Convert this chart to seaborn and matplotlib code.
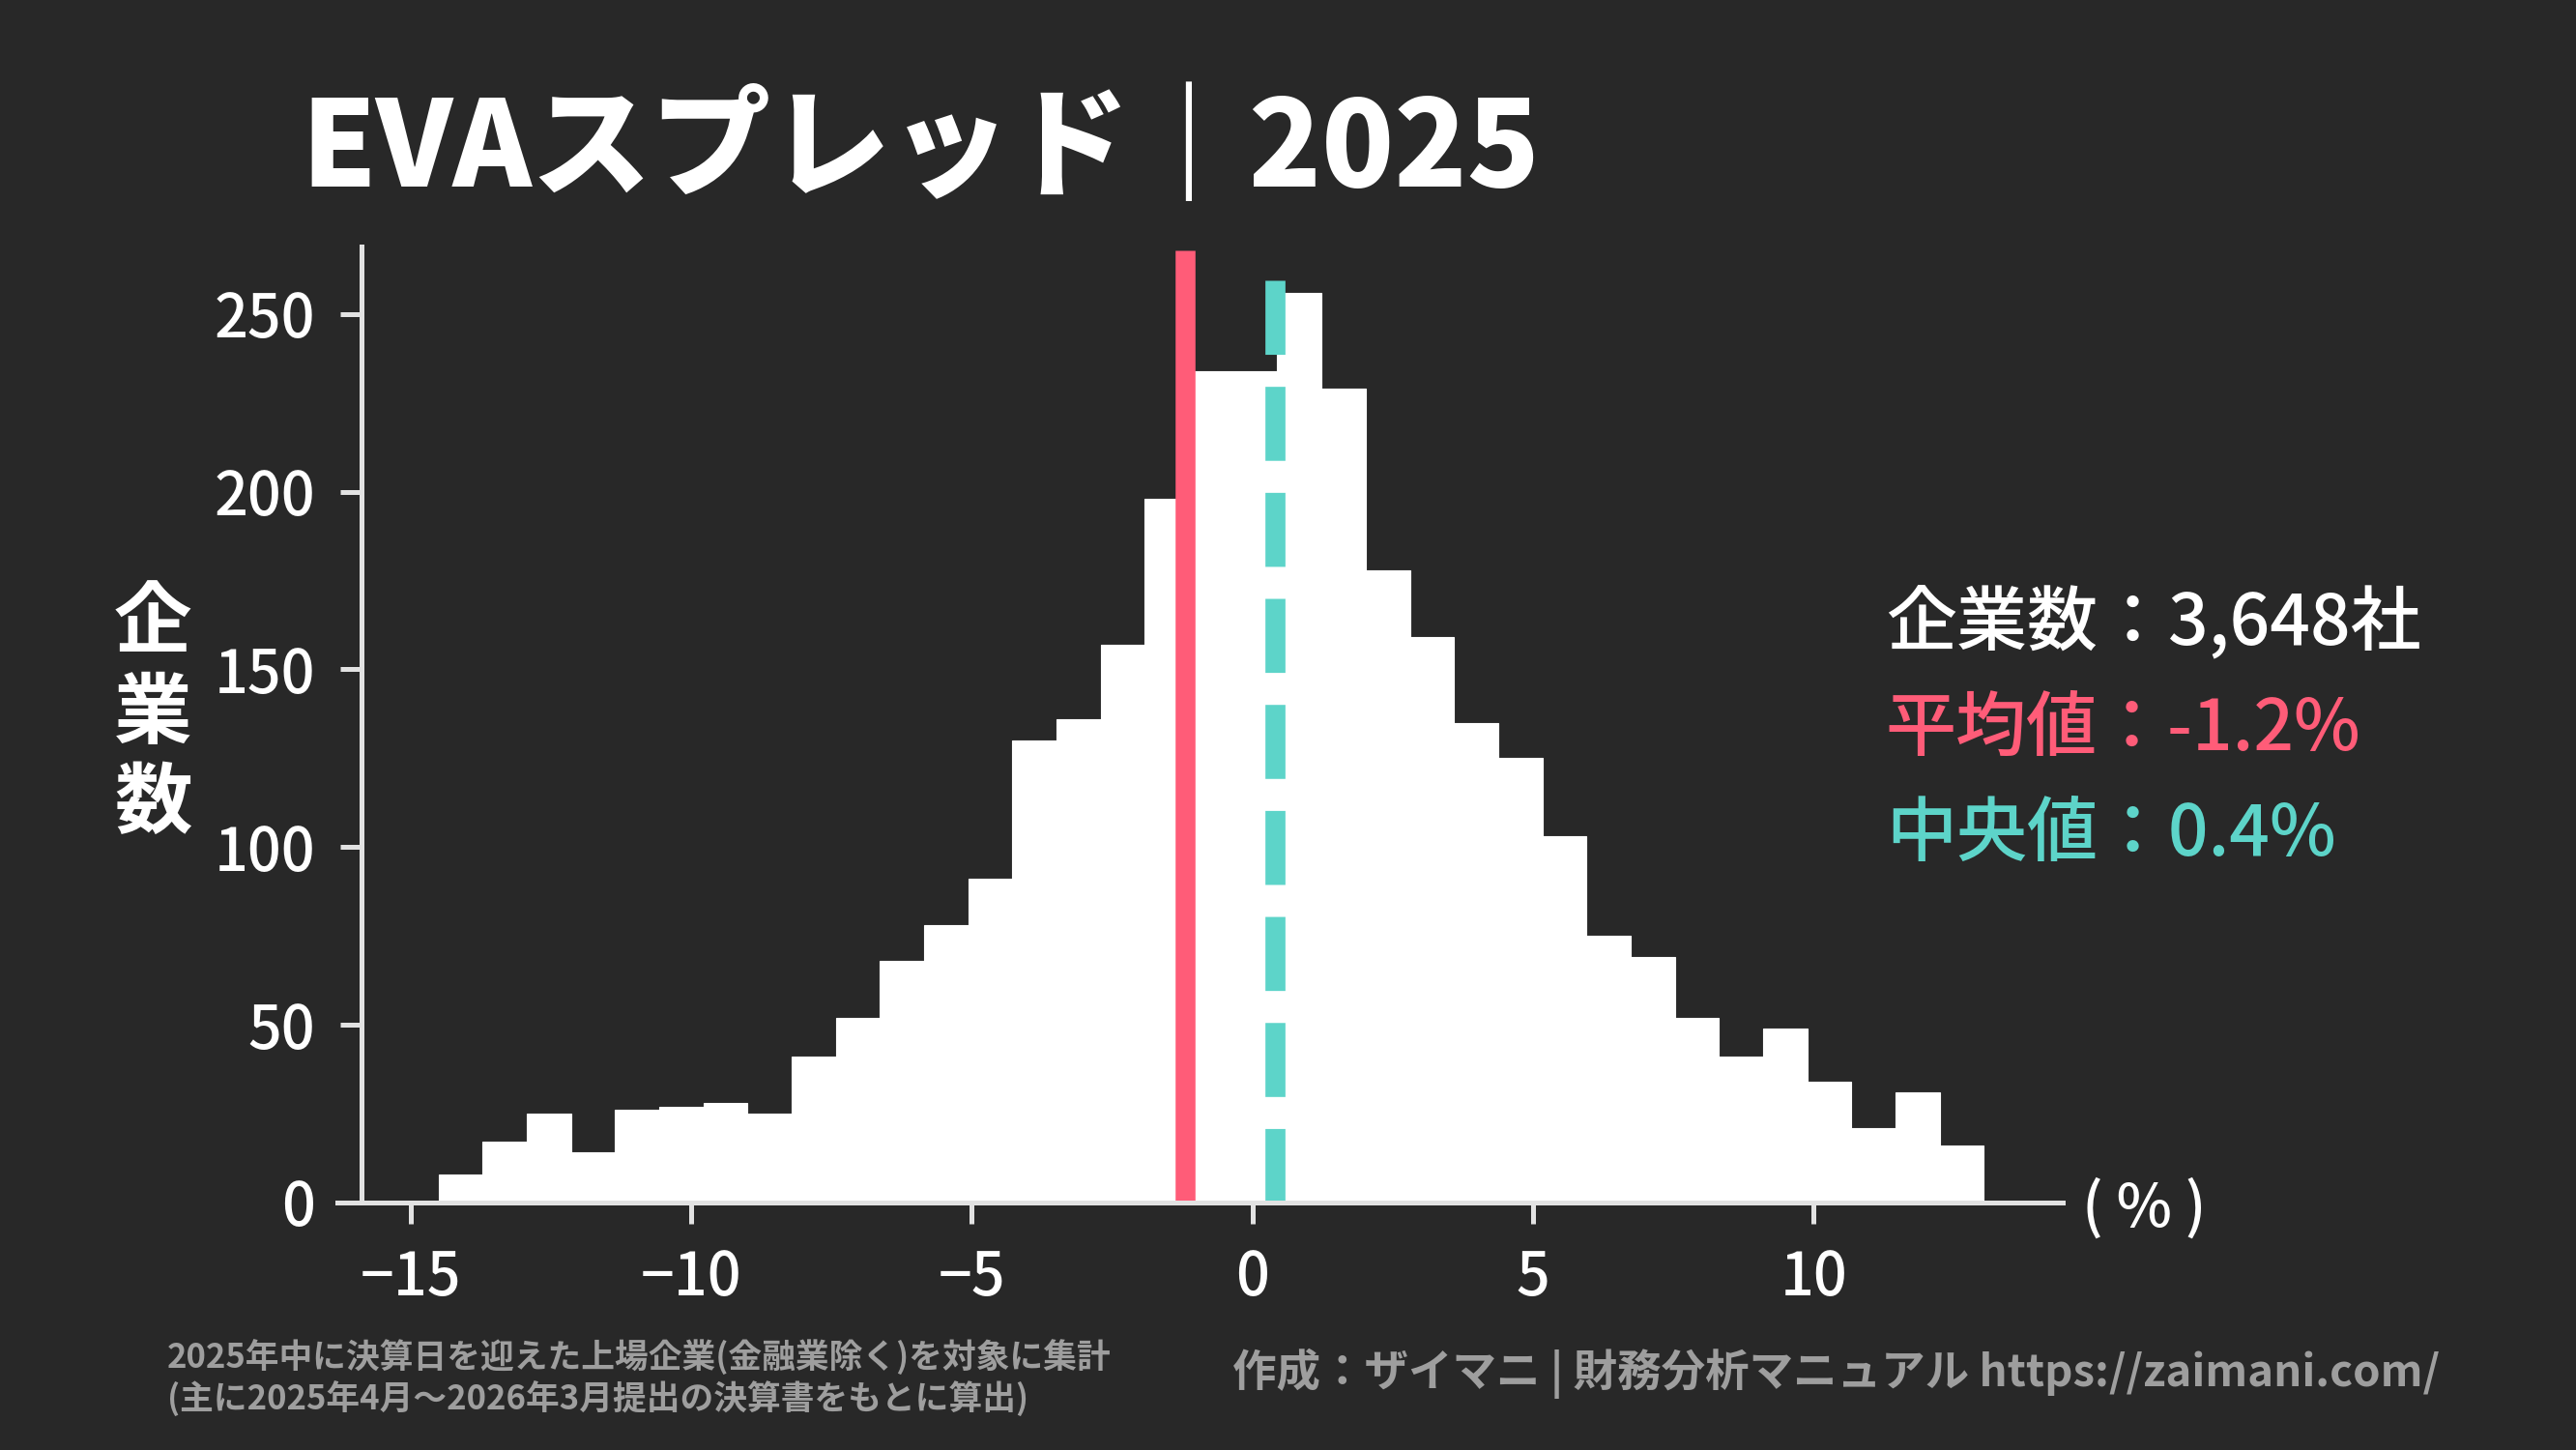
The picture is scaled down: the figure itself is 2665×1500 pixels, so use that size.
import numpy as np
import pandas as pd
import matplotlib
matplotlib.use("Agg")
import matplotlib.pyplot as plt
import seaborn as sns

# --- data ---
bin_start = -14.5     # left edge of first bin (%)
bin_width = 0.7866    # all bins equal width (%)
counts = [8, 17, 25, 14, 26, 27, 28, 25, 41, 52, 68, 78, 91, 130, 136, 157, 198,
          234, 234, 256, 229, 178, 159, 135, 125, 103, 75, 69, 52, 41, 49, 34,
          21, 31, 16]
mean_value = -1.2
median_value = 0.4
n_companies = "3,648"

xticks = [-15, -10, -5, 0, 5, 10]
yticks = [0, 50, 100, 150, 200, 250]

title = "EVAスプレッド｜2025"
note_lines = ["2025年中に決算日を迎えた上場企業(金融業除く)を対象に集計",
              "(主に2025年4月～2026年3月提出の決算書をもとに算出)"]
credit = "作成：ザイマニ | 財務分析マニュアル https://zaimani.com/"

BG = "#282828"
RED = "#FF5C78"
TEAL = "#5DD4C9"
GRAY = "#9E9E9E"
SPINE = "#E2E2E2"

sns.set_theme(style="dark", rc={"figure.facecolor": BG, "axes.facecolor": BG,
                                "savefig.facecolor": BG})
plt.rcParams["font.family"] = ["Noto Sans CJK JP", "DejaVu Sans"]
plt.rcParams["axes.unicode_minus"] = True

edges = bin_start + bin_width * np.arange(len(counts) + 1)
df = pd.DataFrame({"spread": (edges[:-1] + edges[1:]) / 2, "count": counts})

fig = plt.figure(figsize=(13.325, 7.5), dpi=200)
ax = fig.add_axes([0.131, 0.1707, 0.6698, 0.6593])

sns.histplot(data=df, x="spread", weights="count", bins=list(edges), ax=ax,
             color="white", alpha=1, edgecolor="white", linewidth=0.4, zorder=1)

# mean (solid) and median (dashed) markers
ax.axvline(mean_value, ymax=0.996, color=RED, lw=7.4, solid_capstyle="butt", zorder=3)
ax.axvline(median_value, ymax=0.975, color=TEAL, lw=7.45, ls="--", zorder=3)

ax.set_xlim(-16.3, 14.44)
ax.set_ylim(0, 269)
ax.set_xticks(xticks)
ax.set_yticks(yticks)
ax.set_xlabel("")
ax.set_ylabel("")
ax.grid(False)

for side in ["top", "right"]:
    ax.spines[side].set_visible(False)
for side in ["left", "bottom"]:
    ax.spines[side].set_visible(True)
    ax.spines[side].set_color(SPINE)
    ax.spines[side].set_linewidth(1.8)
    ax.spines[side].set_zorder(4)
ax.spines["left"].set_position(("data", -15.88))

ax.tick_params(axis="both", colors=SPINE, length=8, width=1.8, pad=9,
               labelsize=22, labelcolor="white", bottom=True, left=True)
for lab in ax.get_xticklabels() + ax.get_yticklabels():
    lab.set_fontweight("medium")

# unit label at the right end of the x axis
ax.text(1.011, -2, "( % )", transform=ax.get_yaxis_transform(), fontsize=22,
        fontweight="medium", color="white", ha="left", va="center", clip_on=False)

# y label written as stacked characters
fig.text(0.0593, 0.5073, "企\n業\n数", ha="center", va="center", fontsize=29,
         fontweight="bold", color="white", linespacing=1.2)

# title
fig.text(0.117, 0.8713, title, ha="left", va="baseline", fontsize=44.5,
         fontweight="black", color="white")

# summary block
fig.text(0.732, 0.570, f"企業数：{n_companies}社", ha="left", va="center",
         fontsize=26.3, fontweight="medium", color="white")
fig.text(0.732, 0.4967, f"平均値：{mean_value}%", ha="left", va="center",
         fontsize=26.3, fontweight="medium", color=RED)
fig.text(0.732, 0.424, f"中央値：{median_value}%", ha="left", va="center",
         fontsize=26.3, fontweight="medium", color=TEAL)

# footers
fig.text(0.065, 0.064, note_lines[0], ha="left", va="center", fontsize=12.5,
         fontweight="bold", color=GRAY)
fig.text(0.065, 0.035, note_lines[1], ha="left", va="center", fontsize=12.5,
         fontweight="bold", color=GRAY)
fig.text(0.947, 0.0527, credit, ha="right", va="center", fontsize=16.4,
         fontweight="bold", color=GRAY)

fig.savefig("out.png", dpi=200)
